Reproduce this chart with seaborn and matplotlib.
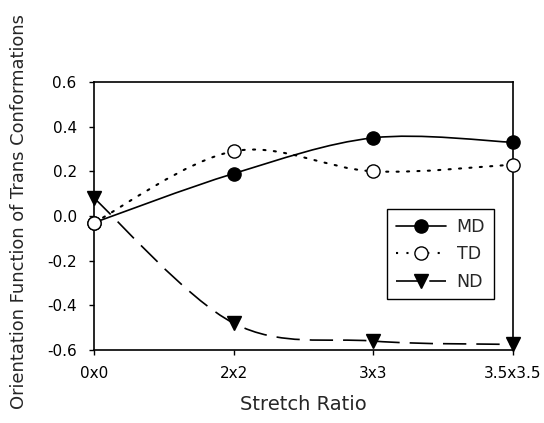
import numpy as np
import pandas as pd
import matplotlib
matplotlib.use("Agg")
import matplotlib.pyplot as plt
from matplotlib.path import Path
from matplotlib.patches import PathPatch
from matplotlib.lines import Line2D
import seaborn as sns

categories = ["0x0", "2x2", "3x3", "3.5x3.5"]
md = [-0.03, 0.19, 0.35, 0.33]
td = [-0.03, 0.29, 0.20, 0.23]
nd = [0.08, -0.48, -0.56, -0.575]
yticks = [0.6, 0.4, 0.2, 0.0, -0.2, -0.4, -0.6]
ytick_labels = ["0.6", "0.4", "0.2", "0.0", "-0.2", "-0.4", "-0.6"]

sns.set_style("ticks")
plt.rcParams["font.family"] = ["DejaVu Sans"]

fig = plt.figure(figsize=(5.44, 4.23), dpi=100)
ax = fig.add_axes([94 / 544, 1 - 350 / 423, 419 / 544, 268 / 423])

df = pd.DataFrame({"x": np.arange(len(categories)), "MD": md, "TD": td, "ND": nd})


def smooth_path(xs, ys):
    pts = np.column_stack([xs, ys]).astype(float)
    ext = np.vstack([pts[0], pts, pts[-1]])
    verts = [tuple(pts[0])]
    codes = [Path.MOVETO]
    for i in range(len(pts) - 1):
        p0, p1, p2, p3 = ext[i], ext[i + 1], ext[i + 2], ext[i + 3]
        c1 = p1 + (p2 - p0) / 6.0
        c2 = p2 - (p3 - p1) / 6.0
        verts += [tuple(c1), tuple(c2), tuple(p2)]
        codes += [Path.CURVE4] * 3
    return Path(verts, codes)


styles = {
    "MD": dict(dashes=None, marker="o", mfc="black", lw=1.2),
    "TD": dict(dashes=(1, 4), marker="o", mfc="white", lw=1.5),
    "ND": dict(dashes=(14, 6), marker="v", mfc="black", lw=1.2),
}

for name in ["MD", "TD", "ND"]:
    st = styles[name]
    patch = PathPatch(smooth_path(df["x"], df[name]), fill=False, edgecolor="black",
                      lw=st["lw"], linestyle=(0, st["dashes"]) if st["dashes"] else "-",
                      zorder=2, capstyle="round" if name == "TD" else "butt")
    ax.add_patch(patch)

for name in ["MD", "ND", "TD"]:
    st = styles[name]
    sns.lineplot(data=df, x="x", y=name, ax=ax, lw=0, marker=st["marker"],
                 markersize=9.5,
                 markerfacecolor=st["mfc"], markeredgecolor="black",
                 markeredgewidth=1.0, color="black", zorder=3, clip_on=False)

ax.set_xlim(0, len(categories) - 1)
ax.set_ylim(-0.6, 0.6)
ax.set_xticks(df["x"])
ax.set_xticklabels(categories)
ax.set_yticks(yticks)
ax.set_yticklabels(ytick_labels)
ax.tick_params(axis="both", direction="out", length=3.5, width=1.0, labelsize=11,
               colors="black")
ax.tick_params(axis="x", pad=8)
ax.tick_params(axis="y", pad=9)
for sp in ax.spines.values():
    sp.set_visible(True)
    sp.set_linewidth(1.2)
    sp.set_color("black")

ax.set_xlabel("Stretch Ratio", fontsize=14, labelpad=10)
ax.set_ylabel("Orientation Function of Trans Conformations", fontsize=12.9)
ax.yaxis.set_label_coords(-0.158, 0.517)

handles = [
    Line2D([], [], color="black", lw=1.2, ls="-", marker="o", markersize=9.5,
           markerfacecolor="black", markeredgecolor="black"),
    Line2D([], [], color="black", lw=1.5, ls=(0, (1, 4)), marker="o", markersize=9.5,
           markerfacecolor="white", markeredgecolor="black"),
    Line2D([], [], color="black", lw=1.2, ls=(0, (14, 6)), marker="v", markersize=9.5,
           markerfacecolor="black", markeredgecolor="black"),
]
leg = ax.legend(handles, ["MD", "TD", "ND"], loc="upper left",
                bbox_to_anchor=(0.70, 0.526), fontsize=12.5, frameon=True,
                fancybox=False, edgecolor="black", framealpha=1,
                handlelength=2.9, handletextpad=0.6, borderpad=0.5,
                labelspacing=0.55, borderaxespad=0)
leg.get_frame().set_linewidth(1.0)

fig.savefig("out.png", dpi=100)
